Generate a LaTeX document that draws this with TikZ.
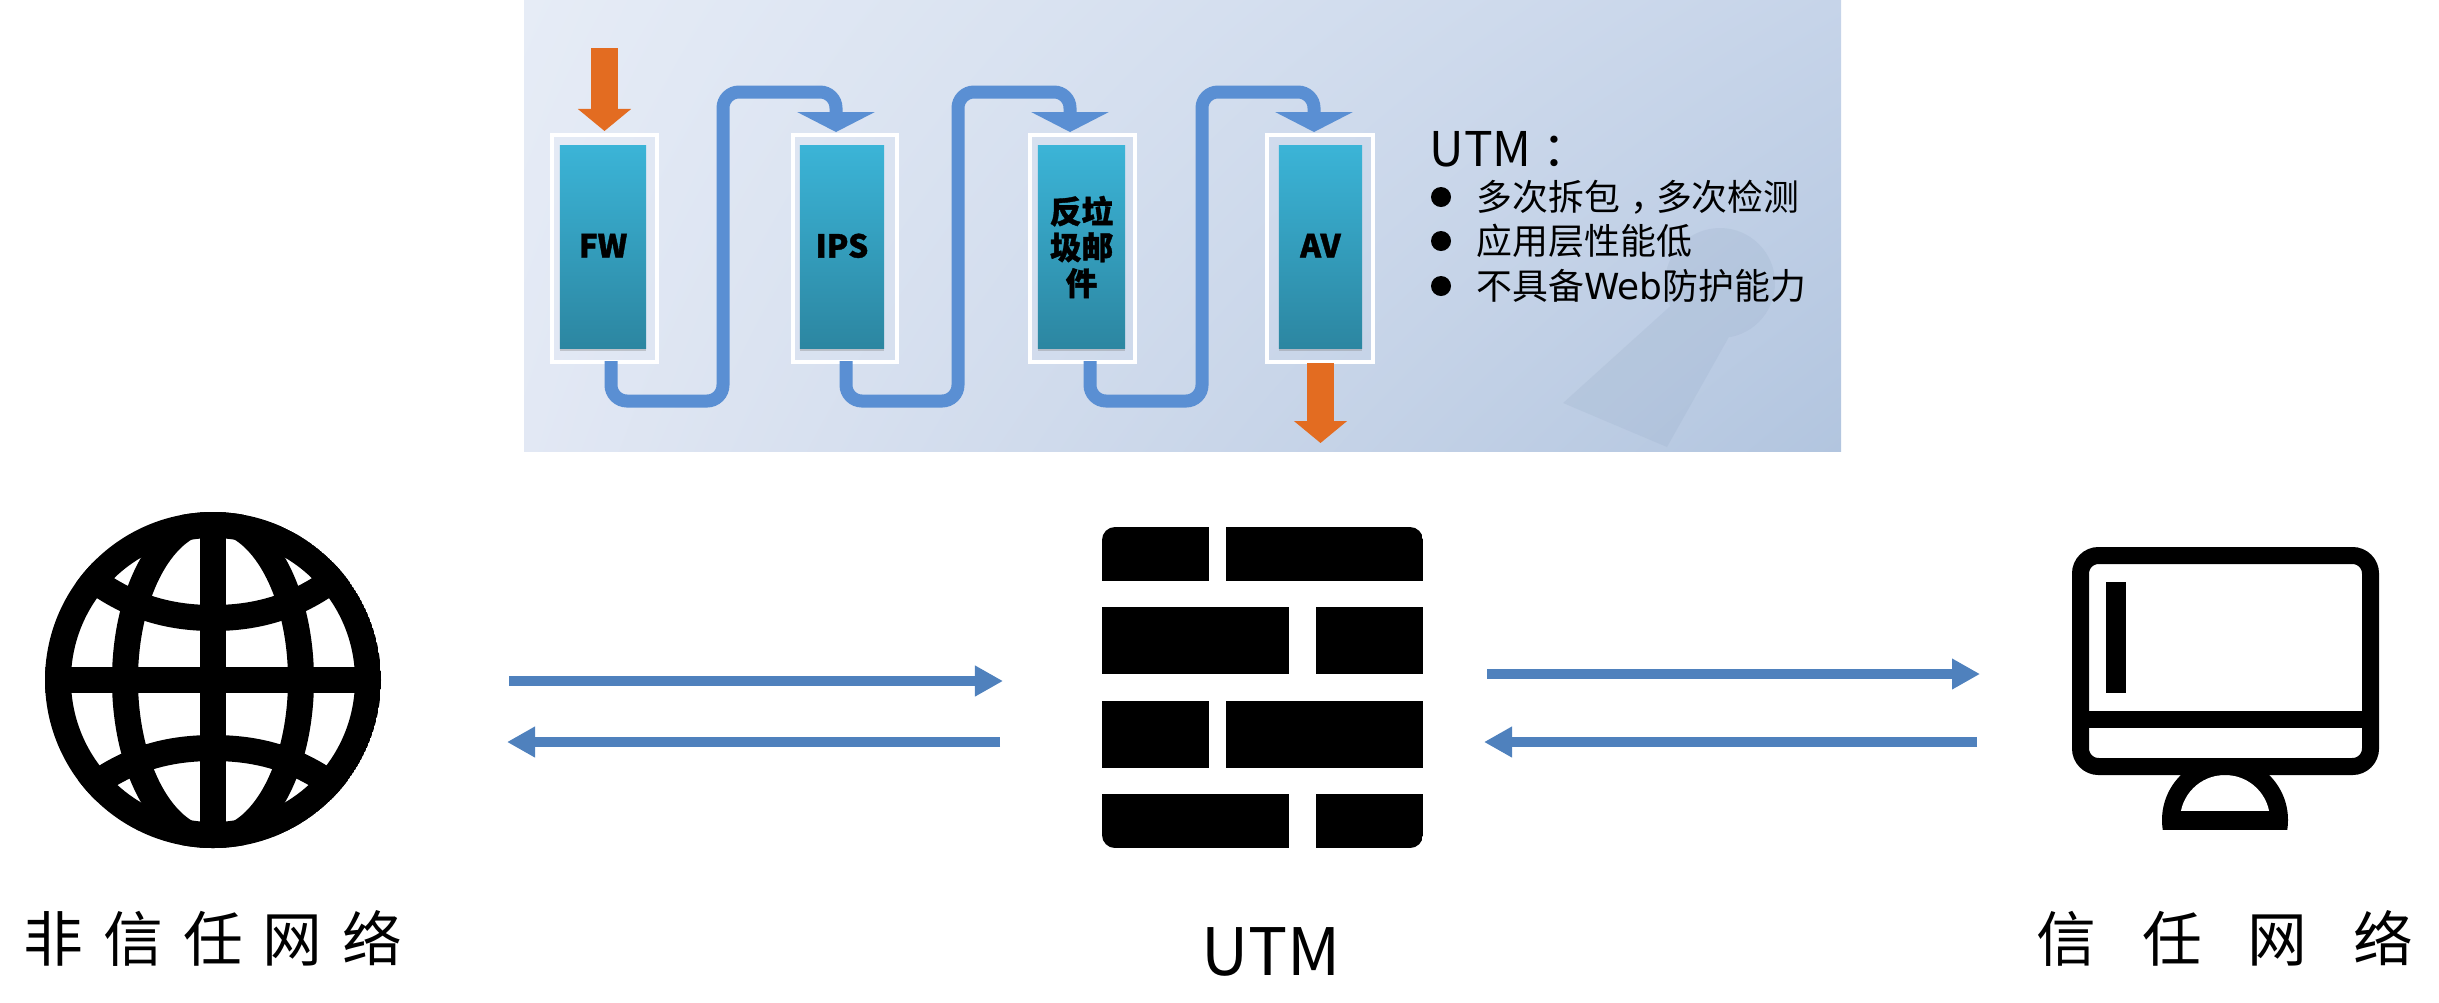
\documentclass[tikz,border=0pt]{standalone}
\usepackage{fontspec}
\setmainfont{Noto Sans CJK SC}
\newfontfamily\webfont{DejaVu Sans}
\usetikzlibrary{arrows.meta,shadows,shadings}
\definecolor{pipeblue}{HTML}{5A8FD3}
\definecolor{linkblue}{HTML}{4F81BD}
\definecolor{flowred}{HTML}{E36C21}
\definecolor{panelA}{HTML}{E6ECF6}
\definecolor{panelB}{HTML}{C6D4E9}
\definecolor{panelC}{HTML}{E2E8F4}
\definecolor{panelD}{HTML}{B2C5DF}
\definecolor{modtop}{HTML}{3BB4D7}
\definecolor{modbot}{HTML}{2C86A1}
\definecolor{keygray}{HTML}{7F97B5}
\tikzset{
  outerbox/.style={draw=white, line width=0.04cm, minimum width=1.04cm, minimum height=2.26cm, inner sep=0},
  modbox/.style={top color=modtop, bottom color=modbot, minimum height=2.03cm, inner sep=0, align=center,
    font=\fontsize{9}{10.2}\selectfont\bfseries\addfontfeature{FakeBold=1.2}, drop shadow={shadow xshift=0pt, shadow yshift=-0.7pt, opacity=0.35}},
  pipe/.style={pipeblue, line width=0.13cm, rounded corners=0.16cm, -{Triangle[length=0.2cm,width=0.77cm]}},
  inflow/.style={flowred, line width=0.27cm, -{Triangle[length=0.22cm,width=0.52cm]}},
  link/.style={linkblue, line width=0.1cm, -{Triangle[length=0.28cm,width=0.29cm]}},
  icon/.style={line width=0.26cm},
  caption/.style={font=\fontsize{17}{20}\selectfont},
  listitem/.style={anchor=west, inner sep=0, font=\fontsize{10.2}{12}\selectfont},
  bulletdot/.style={circle, fill=black, inner sep=0, minimum size=0.2cm}
}
\begin{document}
\begin{tikzpicture}[x=0.01cm, y=-0.01cm]
  \useasboundingbox (0,0) rectangle (2439,1002);

  % panel
  \shade[upper left=panelA, upper right=panelB, lower left=panelC, lower right=panelD]
      (524,0) rectangle (1841,451);
  \fill[keygray, opacity=0.13] (1720,283) circle [radius=55]
      (1677,300) -- (1730,335) -- (1667,447) -- (1563,403) -- cycle;

  \node[outerbox] (fwbox) at (604.5,248.5) {};
  \node[outerbox] (ipsbox) at (845,248.5) {};
  \node[outerbox] (spambox) at (1082.5,248.5) {};
  \node[outerbox, minimum width=1.06cm] (avbox) at (1320,248.5) {};
  \node[modbox, minimum width=0.86cm] (fw) at (603,247) {\raisebox{0.8pt}{FW}};
  \node[modbox, minimum width=0.84cm] (ips) at (842,247) {\raisebox{0.8pt}{IPS}};
  \node[modbox, minimum width=0.87cm] (spam) at (1081.5,247) {反垃\\圾邮\\件};
  \node[modbox, minimum width=0.83cm] (av) at (1320.5,247) {\raisebox{0.8pt}{AV}};

  \coordinate (fwin) at (604.5,48);
  \coordinate (fwhit) at (604.5,131);
  \coordinate (avout) at (1320.5,363);
  \coordinate (avend) at (1320.5,443);
  \draw[inflow] (fwin) -- (fwhit);
  \draw[inflow] (avout) -- (avend);

  \foreach \a/\b/\xa/\xb/\xc in {fw/ips/611/723/836, ips/spam/846/958/1070, spam/av/1090/1202/1314}
  {
    \coordinate (\a out) at (\xa,361);
    \coordinate (\b in) at (\xc,132);
    \draw[pipe] (\a out) -- (\xa,401) -- (\xb,401) -- (\xb,92) -- (\xc,92) -- (\b in);
  }

  \node[anchor=west, inner sep=0, font=\fontsize{13.6}{16}\selectfont] (utmhead) at (1429,149.5) {UTM\kern3pt：};
  \foreach \n/\y/\txt in {a/197/多次拆包\kern3pt，\kern-3pt多次检测, b/241/应用层性能低, c/286/不具备{\webfont Web}防护能力}
  {
    \node[bulletdot] (dot\n) at (1441,\y) {};
    \node[listitem] (item\n) at (1476,\y) {\txt};
  }

  % untrusted side
  \begin{scope}
    \clip (213,680) circle [radius=168];
    \draw[icon] (213,680) circle [radius=155];
    \draw[icon] (213,680) ellipse [x radius=88, y radius=160];
    \draw[icon] (45,680) -- (381,680);
    \draw[icon] (213,512) -- (213,848);
    \draw[icon] (75,565) .. controls (120,605) and (165,618) .. (213,618) .. controls (261,618) and (306,605) .. (351,565);
    \draw[icon] (75,800) .. controls (120,760) and (165,748) .. (213,748) .. controls (261,748) and (306,760) .. (351,800);
  \end{scope}
  \node[caption] (wanlabel) at (213,938) {\spaceskip=5.7pt 非 信 任 网 络};

  % firewall
  \begin{scope}
    \clip[rounded corners=0.13cm] (1102,527) rectangle (1423,848);
    \foreach \ya/\yb/\xa/\xb in {527/581/1209/1226, 607/674/1289/1316, 701/768/1209/1226, 794/848/1289/1316}
    {
      \fill (1102,\ya) rectangle (\xa,\yb);
      \fill (\xb,\ya) rectangle (1423,\yb);
    }
  \end{scope}
  \node[font=\fontsize{18.6}{22}\selectfont] (utmlabel) at (1271,952) {UTM};

  % trusted side
  \begin{scope}
    \clip (2150,775) rectangle (2300,829);
    \fill (2225,820) circle [radius=63];
    \clip (2150,775) rectangle (2300,810);
    \fill[white] (2225,820) circle [radius=45];
  \end{scope}
  \draw[line width=0.17cm, rounded corners=0.18cm] (2080.5,555.5) rectangle (2370.5,766.5);
  \fill (2080,711) rectangle (2371,728);
  \fill (2106,582) rectangle (2126,693);
  \node[caption] (lanlabel) at (2225,938) {\spaceskip=13pt 信 任 网 络};

  % links
  \coordinate (wanA) at (509,681);
  \coordinate (utmA) at (1003,681);
  \coordinate (utmB) at (1000,742);
  \coordinate (wanB) at (507,742);
  \coordinate (utmC) at (1487,674);
  \coordinate (lanC) at (1980,674);
  \coordinate (lanD) at (1977,742);
  \coordinate (utmD) at (1484,742);
  \draw[link] (wanA) -- (utmA);
  \draw[link] (utmB) -- (wanB);
  \draw[link] (utmC) -- (lanC);
  \draw[link] (lanD) -- (utmD);
\end{tikzpicture}
\end{document}
